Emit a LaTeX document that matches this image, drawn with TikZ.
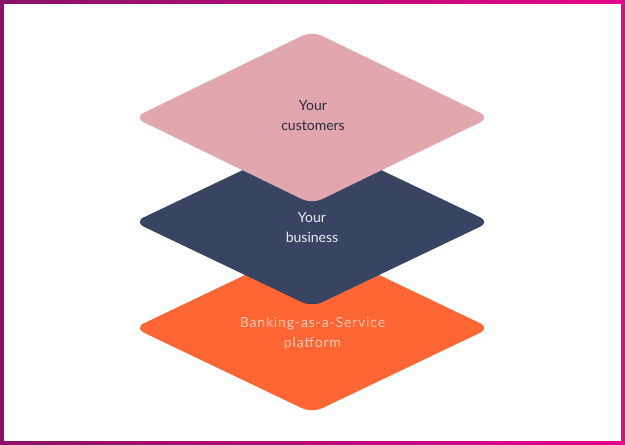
\documentclass[tikz,border=0pt]{standalone}
\usepackage{fontspec}
\setmainfont{Lato}
\definecolor{framel}{HTML}{8A1266}
\definecolor{framer}{HTML}{E6068A}
\definecolor{pinkc}{HTML}{E2A7AE}
\definecolor{navyc}{HTML}{374462}
\definecolor{orangec}{HTML}{FF6633}
\definecolor{darktext}{HTML}{2A2C40}
\definecolor{navytext}{HTML}{EDEEF3}
\definecolor{orangetext}{HTML}{FCCDB8}
\begin{document}
\begin{tikzpicture}[x=1pt,y=-1pt,
  layer/.style={rounded corners=11pt},
  lbl/.style={align=center,font=\fontsize{14}{20}\selectfont,inner sep=0pt}]
\useasboundingbox (0,0) rectangle (625,445);
% frame
\shade[left color=framel,right color=framer] (0,0) rectangle (625,445);
\fill[white] (4,4) rectangle (621,441);
% orange layer
\fill[layer,orangec] (224,287) -- (134,328) -- (312,243) -- (490,328) -- (312,413) -- (134,328) -- cycle;
% navy layer
\fill[layer,navyc] (224,180) -- (134,222) -- (312,137) -- (490,222) -- (312,307) -- (134,222) -- cycle;
% pink layer
\fill[layer,pinkc] (224,76) -- (134,117.5) -- (312,31) -- (490,117.5) -- (312,204) -- (134,117.5) -- cycle;
% labels
\node[lbl,text=darktext] (cust) at (313,116) {Your\\customers};
\node[lbl,text=navytext] (biz) at (312,228) {Your\\business};
\node[lbl,text=orangetext,font=\fontsize{14}{20}\selectfont\addfontfeature{LetterSpace=6}] (baas) at (312.5,334) {Banking-as-a-Service\\platform};
\end{tikzpicture}
\end{document}
